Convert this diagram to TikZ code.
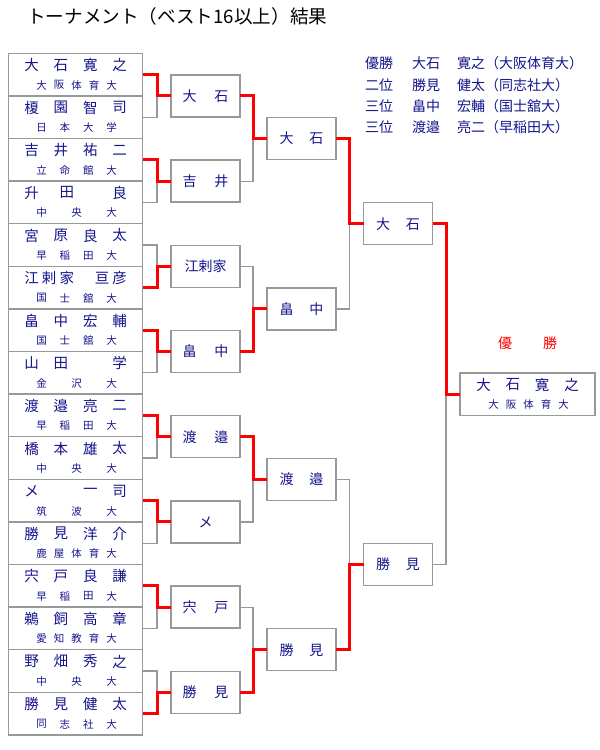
\documentclass[tikz,border=0pt]{standalone}
\usepackage{fontspec}
\newfontfamily\jp{Noto Sans CJK JP}
\usetikzlibrary{calc}
\definecolor{navy}{HTML}{14148C}
\definecolor{boxgray}{HTML}{999999}
\newcommand\pname[3]{\foreach \c [count=\i from 0] in {#3}{\path (#1.center) ++({-44+\i*88/(#2-1)},-9.5) node[nmtext]{\c};}}
\newcommand\puni[3]{\foreach \c [count=\i from 0] in {#3}{\path (#1.center) ++({-34+\i*70/(#2-1)},10.5) node[untext]{\c};}}
\newcommand\match[3]{%
  \draw[lose] (#2.east) -| ($(#3.west)+(-14,0)$);
  \draw[win] (#1.east) -| ($(#3.west)+(-14,0)$) -- (#3.west);}
\begin{document}
\begin{tikzpicture}[x=1pt,y=-1pt,
  pbox/.style={draw=boxgray, line width=1.5pt, minimum width=134pt, minimum height=42.6pt, inner sep=0pt, outer sep=0pt},
  rbox/.style={draw=boxgray, line width=1.5pt, minimum width=69pt, minimum height=42pt, inner sep=0pt, outer sep=0pt, font=\jp\fontsize{14}{14}\selectfont, text=navy},
  wbox/.style={draw=boxgray, line width=1.5pt, minimum width=135pt, minimum height=42.5pt, inner sep=0pt, outer sep=0pt},
  win/.style={red, line width=3pt},
  lose/.style={boxgray, line width=1.2pt},
  nmtext/.style={font=\jp\fontsize{14.5}{15}\selectfont, text=navy, inner sep=0pt},
  untext/.style={font=\jp\fontsize{10.5}{11}\selectfont, text=navy, inner sep=0pt},
  restext/.style={font=\jp\fontsize{14}{14}\selectfont, text=navy, inner sep=0pt, anchor=west}]
\useasboundingbox (0,0) rectangle (600,750);

% title
\node[font=\jp\fontsize{18.6}{19}\selectfont, anchor=west, inner sep=0pt] (title) at (27,16) {トーナメント（ベスト16以上）結果};

% results
\node[restext] (r1a) at (365,63.3) {優勝};
\node[restext] (r1b) at (412,63.3) {大石};
\node[restext] (r1c) at (457,63.3) {寛之（大阪体育大）};
\node[restext] (r2a) at (365,85) {二位};
\node[restext] (r2b) at (412,85) {勝見};
\node[restext] (r2c) at (457,85) {健太（同志社大）};
\node[restext] (r3a) at (365,106.5) {三位};
\node[restext] (r3b) at (412,106.5) {畠中};
\node[restext] (r3c) at (457,106.5) {宏輔（国士舘大）};
\node[restext] (r4a) at (365,127) {三位};
\node[restext] (r4b) at (412,127) {渡邉};
\node[restext] (r4c) at (457,127) {亮二（早稲田大）};

% players
\node[pbox] (p0) at (75.6,74.6) {};   \pname{p0}{4}{大,石,寛,之}\puni{p0}{5}{大,阪,体,育,大}
\node[pbox] (p1) at (75.6,117.2) {};  \pname{p1}{4}{榎,園,智,司}\puni{p1}{4}{日,本,大,学}
\node[pbox] (p2) at (75.6,159.8) {};  \pname{p2}{4}{吉,井,祐,二}\puni{p2}{4}{立,命,館,大}
\node[pbox] (p3) at (75.6,202.4) {};  \pname{p3}{6}{升,,田,,,良}\puni{p3}{3}{中,央,大}
\node[pbox] (p4) at (75.6,245.0) {};  \pname{p4}{4}{宮,原,良,太}\puni{p4}{4}{早,稲,田,大}
\node[pbox] (p5) at (75.6,287.6) {};  \pname{p5}{6}{江,剌,家,,亘,彦}\puni{p5}{4}{国,士,舘,大}
\node[pbox] (p6) at (75.6,330.2) {};  \pname{p6}{4}{畠,中,宏,輔}\puni{p6}{4}{国,士,舘,大}
\node[pbox] (p7) at (75.6,372.8) {};  \pname{p7}{4}{山,田,,学}\puni{p7}{3}{金,沢,大}
\node[pbox] (p8) at (75.6,415.4) {};  \pname{p8}{4}{渡,邉,亮,二}\puni{p8}{4}{早,稲,田,大}
\node[pbox] (p9) at (75.6,458.0) {};  \pname{p9}{4}{橋,本,雄,太}\puni{p9}{3}{中,央,大}
\node[pbox] (p10) at (75.6,500.6) {}; \pname{p10}{4}{メ,,一,司}\puni{p10}{3}{筑,波,大}
\node[pbox] (p11) at (75.6,543.2) {}; \pname{p11}{4}{勝,見,洋,介}\puni{p11}{5}{鹿,屋,体,育,大}
\node[pbox] (p12) at (75.6,585.8) {}; \pname{p12}{4}{宍,戸,良,謙}\puni{p12}{4}{早,稲,田,大}
\node[pbox] (p13) at (75.6,628.4) {}; \pname{p13}{4}{鵜,飼,高,章}\puni{p13}{5}{愛,知,教,育,大}
\node[pbox] (p14) at (75.6,671.0) {}; \pname{p14}{4}{野,畑,秀,之}\puni{p14}{3}{中,央,大}
\node[pbox] (p15) at (75.6,713.6) {}; \pname{p15}{4}{勝,見,健,太}\puni{p15}{4}{同,志,社,大}

% round 2
\node[rbox] (a0) at (205.5,95.9) {大\hspace{18pt}石};
\node[rbox] (a1) at (205.5,181.1) {吉\hspace{18pt}井};
\node[rbox] (a2) at (205.5,266.3) {江剌家};
\node[rbox] (a3) at (205.5,351.5) {畠\hspace{18pt}中};
\node[rbox] (a4) at (205.5,436.7) {渡\hspace{18pt}邉};
\node[rbox] (a5) at (205.5,521.9) {メ};
\node[rbox] (a6) at (205.5,607.1) {宍\hspace{18pt}戸};
\node[rbox] (a7) at (205.5,692.3) {勝\hspace{18pt}見};

% round 3
\node[rbox] (b0) at (301.5,138.5) {大\hspace{16pt}石};
\node[rbox] (b1) at (301.5,308.9) {畠\hspace{16pt}中};
\node[rbox] (b2) at (301.5,479.3) {渡\hspace{16pt}邉};
\node[rbox] (b3) at (301.5,649.7) {勝\hspace{16pt}見};

% round 4
\node[rbox] (c0) at (398,223.7) {大\hspace{16pt}石};
\node[rbox] (c1) at (398,564.5) {勝\hspace{16pt}見};

% champion
\node[wbox] (w) at (527.5,394.1) {};
\pname{w}{4}{大,石,寛,之}\puni{w}{5}{大,阪,体,育,大}
\node[font=\jp\fontsize{14}{14}\selectfont, text=red, inner sep=0pt] (yu) at (505,343) {優};
\node[font=\jp\fontsize{14}{14}\selectfont, text=red, inner sep=0pt] (sho) at (550,343) {勝};

% connectors
\match{p0}{p1}{a0}
\match{p2}{p3}{a1}
\match{p5}{p4}{a2}
\match{p6}{p7}{a3}
\match{p8}{p9}{a4}
\match{p10}{p11}{a5}
\match{p12}{p13}{a6}
\match{p15}{p14}{a7}
\match{a0}{a1}{b0}
\match{a3}{a2}{b1}
\match{a4}{a5}{b2}
\match{a7}{a6}{b3}
\match{b0}{b1}{c0}
\match{b3}{b2}{c1}
\match{c0}{c1}{w}
\end{tikzpicture}
\end{document}
